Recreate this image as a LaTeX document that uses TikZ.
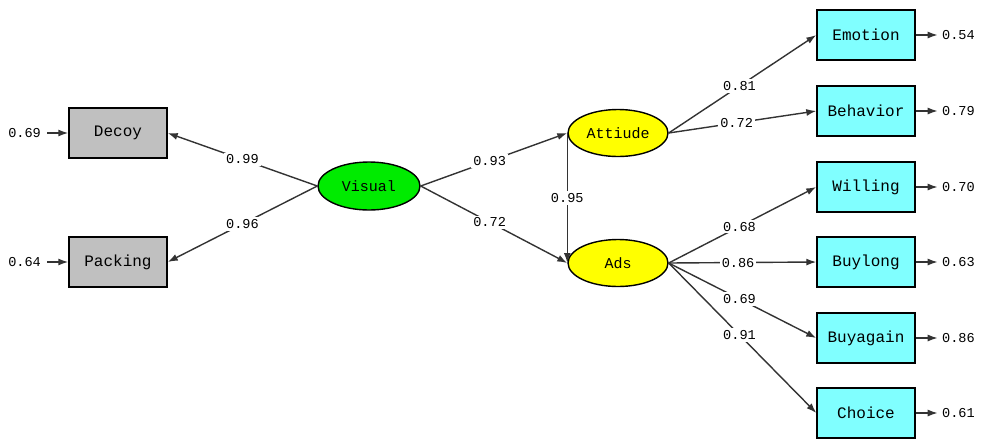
\documentclass[tikz,border=0pt]{standalone}
\usepackage{fontspec}
\setmonofont{Liberation Mono}
\usetikzlibrary{arrows.meta,shapes.geometric}

\definecolor{obsgray}{RGB}{192,192,192}
\definecolor{obscyan}{RGB}{128,255,255}
\definecolor{latgreen}{RGB}{0,235,0}
\definecolor{latyellow}{RGB}{255,255,0}

\begin{document}
\begin{tikzpicture}[x=0.5pt,y=-0.5pt,
  obs/.style={draw,line width=0.7pt,minimum width=49pt,minimum height=25pt,inner sep=0pt,font=\ttfamily\fontsize{8}{9}\selectfont},
  lat/.style={draw,ellipse,line width=0.7pt,minimum width=50pt,minimum height=23.5pt,inner sep=0pt,font=\ttfamily\fontsize{7.5}{9}\selectfont},
  load/.style={line width=0.7pt,draw=black!80,-{Latex[length=5pt,width=3.5pt]}},
  coef/.style={fill=white,inner sep=1pt,font=\ttfamily\fontsize{6.8}{7}\selectfont}]
\useasboundingbox (0,0) rectangle (981,440);

% latent variables
\node[lat,fill=latgreen,minimum width=51pt,minimum height=24pt] (visual) at (369,186) {Visual};
\node[lat,fill=latyellow] (attiude) at (618,133) {Attiude};
\node[lat,fill=latyellow] (ads) at (618,263) {Ads};

% indicators
\node[obs,fill=obsgray] (decoy) at (118,133) {Decoy};
\node[obs,fill=obsgray] (packing) at (118,262) {Packing};
\node[obs,fill=obscyan] (emotion) at (866,35) {Emotion};
\node[obs,fill=obscyan] (behavior) at (866,111) {Behavior};
\node[obs,fill=obscyan] (willing) at (866,187) {Willing};
\node[obs,fill=obscyan] (buylong) at (866,262) {Buylong};
\node[obs,fill=obscyan] (buyagain) at (866,338) {Buyagain};
\node[obs,fill=obscyan] (choice) at (866,413) {Choice};

% loadings and paths
\draw[load] (visual.west) -- node[coef] {0.99} (decoy.east);
\draw[load] (visual.west) -- node[coef] {0.96} (packing.east);
\draw[load] (visual.east) -- node[coef,pos=0.47] {0.93} (attiude.west);
\draw[load] (visual.east) -- node[coef,pos=0.47] {0.72} (ads.west);
\draw[load] (attiude.west) -- node[coef] {0.95} (ads.west);
\draw[load] (attiude.east) -- node[coef,pos=0.48] {0.81} (emotion.west);
\draw[load] (attiude.east) -- node[coef,pos=0.46] {0.72} (behavior.west);
\draw[load] (ads.east) -- node[coef,pos=0.48] {0.68} (willing.west);
\draw[load] (ads.east) -- node[coef,pos=0.47] {0.86} (buylong.west);
\draw[load] (ads.east) -- node[coef,pos=0.48] {0.69} (buyagain.west);
\draw[load] (ads.east) -- node[coef,pos=0.48] {0.91} (choice.west);

% error variances
\foreach \ind/\val in {decoy/0.69,packing/0.64}{
  \coordinate (e-\ind) at ([xshift=-10.5pt]\ind.west);
  \node[coef,anchor=east] (v-\ind) at ([xshift=-2pt]e-\ind) {\val};
  \draw[load] (e-\ind) -- (\ind.west);
}
\foreach \ind/\val in {emotion/0.54,behavior/0.79,willing/0.70,buylong/0.63,buyagain/0.86,choice/0.61}{
  \coordinate (e-\ind) at ([xshift=11pt]\ind.east);
  \node[coef,anchor=west] (v-\ind) at ([xshift=1pt]e-\ind) {\val};
  \draw[load] (\ind.east) -- (e-\ind);
}
\end{tikzpicture}
\end{document}
